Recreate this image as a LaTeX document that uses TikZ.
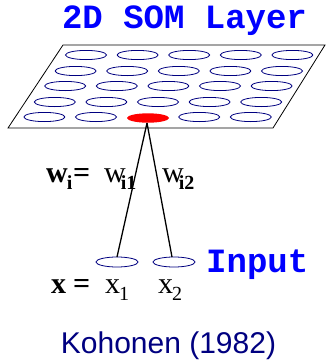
\documentclass[tikz,border=0pt]{standalone}
\usepackage{fontspec}
\setmainfont{Liberation Serif}
\newfontfamily\monofont{Liberation Mono}
\newfontfamily\sansfont{Liberation Sans}
\definecolor{navy}{RGB}{0,0,128}
\definecolor{brightblue}{RGB}{0,0,255}
\newcommand{\sbs}[1]{\raisebox{-7pt}{\fontsize{20}{20}\selectfont #1}}
\begin{document}
\begin{tikzpicture}[x=1pt,y=-1pt,
  unit/.style={draw=navy,line width=0.8pt},
  lbl/.style={inner sep=0pt,anchor=base west,font=\fontsize{30}{32}\selectfont},
  title/.style={inner sep=0pt,anchor=base,text=brightblue,font=\monofont\bfseries\fontsize{34}{36}\selectfont},
  link/.style={draw=black,line width=1.3pt}]
\useasboundingbox (0,0) rectangle (325,364);
% sheet
\draw[line width=0.8pt] (63,45) -- (325,45) -- (273,128) -- (8,128) -- cycle;
% grid of units
\foreach \r/\y in {0/55,1/71,2/86,3/102,4/117}{
  \foreach \c in {0,...,4}{
    \pgfmathsetmacro{\xx}{86-10.4*\r+51.6*\c}
    \ifnum\r=4 \ifnum\c=2 \else
      \draw[unit] (\xx,\y) ellipse [x radius=20.5,y radius=4.6];
    \fi\else
      \draw[unit] (\xx,\y) ellipse [x radius=20.5,y radius=4.6];
    \fi
  }
}
\fill[red] (148,118) ellipse [x radius=21,y radius=4.7];
\coordinate (apex) at (147,123);
% input units
\draw[unit] (117,262) ellipse [x radius=21,y radius=5];
\draw[unit] (174,262) ellipse [x radius=21,y radius=5];
\coordinate (in1) at (117,257);
\coordinate (in2) at (172,257);
\draw[link] (apex) -- (in1);
\draw[link] (apex) -- (in2);
% titles
\node[title] (t1) at (184.5,28) {2D SOM Layer};
\node[title,anchor=base west] (t2) at (206,272) {Input};
\node[inner sep=0pt,anchor=base,text=navy,font=\sansfont\fontsize{30}{32}\selectfont] (t3) at (168.5,353) {Kohonen (1982)};
% labels
\node[lbl] (wi) at (46,182) {\textbf{w}\kern-1pt\sbs{\textbf{i}}};
\node[lbl] (eq1) at (73,182) {\textbf{=}};
\node[lbl] (w1) at (104,182) {w\kern-5pt\sbs{\textbf{i1}}};
\node[lbl] (w2) at (162,182) {w\kern-5pt\sbs{\textbf{i2}}};
\node[lbl] (xv) at (51,293) {\textbf{x}};
\node[lbl] (eq2) at (73,293) {\textbf{=}};
\node[lbl] (x1) at (105,293) {x\kern-1pt\sbs{1}};
\node[lbl] (x2) at (158,293) {x\kern-1pt\sbs{2}};
\end{tikzpicture}
\end{document}
